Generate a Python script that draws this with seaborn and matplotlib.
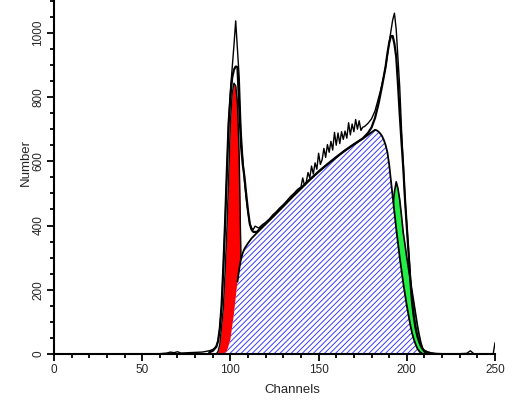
import matplotlib
matplotlib.use("Agg")
import matplotlib.pyplot as plt
from matplotlib.ticker import MultipleLocator
import seaborn as sns
import pandas as pd

# ---- data (channel, count) ----
data_ch = [0, 20, 40, 60, 64, 66, 68, 70, 72, 76,
           80, 84, 86, 88, 90, 91, 92, 93, 94, 95,
           96, 97, 98, 99, 100, 101, 102, 103, 104, 105,
           106, 107, 108, 109, 110, 111, 112, 113, 114, 116,
           118, 120, 122, 124, 126, 128, 130, 132, 134, 136,
           138, 140, 141, 142, 143, 144, 145, 146, 147, 148,
           149, 150, 151, 152, 153, 154, 155, 156, 157, 158,
           159, 160, 161, 162, 163, 164, 165, 166, 167, 168,
           169, 170, 171, 172, 173, 174, 175, 176, 178, 180,
           182, 184, 185, 186, 187, 188, 189, 190, 191, 192,
           193, 194, 195, 196, 197, 198, 199, 200, 201, 202,
           203, 204, 205, 206, 207, 208, 209, 210, 212, 214,
           216, 220, 230, 234, 236, 238, 245, 249, 250]
data_n = [0, 0, 1, 1, 3, 6, 4, 7, 3, 4,
          5, 6, 8, 10, 14, 18, 25, 40, 80, 150,
          270, 410, 570, 720, 820, 890, 960, 1037, 950, 860,
          700, 610, 535, 482, 440, 405, 392, 388, 398, 392,
          402, 410, 420, 433, 443, 455, 465, 477, 490, 500,
          512, 520, 548, 525, 535, 565, 548, 585, 560, 595,
          575, 625, 590, 605, 640, 612, 652, 628, 662, 635,
          690, 650, 688, 655, 692, 668, 694, 672, 720, 682,
          716, 692, 730, 700, 726, 696, 706, 708, 718, 732,
          757, 797, 818, 842, 866, 895, 930, 970, 1005, 1040,
          1061, 1010, 920, 830, 700, 590, 480, 400, 320, 235,
          165, 118, 82, 56, 38, 25, 16, 10, 6, 3,
          2, 1, 1, 2, 10, 1, 1, 1, 35]

model_ch = [88, 90, 92, 93, 94, 95, 96, 97, 98, 99,
            100, 101, 102, 103, 104, 105, 106, 107, 108, 109,
            110, 111, 112, 113, 115, 120, 125, 130, 135, 140,
            145, 150, 155, 160, 165, 170, 175, 178, 180, 182,
            184, 186, 188, 189, 190, 191, 192, 193, 194, 195,
            196, 197, 198, 199, 200, 201, 202, 203, 204, 205,
            206, 207, 208, 209, 210, 212, 214, 216]
model_n = [5, 10, 22, 40, 80, 150, 270, 410, 570, 720,
           800, 860, 885, 895, 893, 770, 650, 590, 550, 495,
           445, 405, 387, 380, 380, 406, 433, 461, 489, 516,
           543, 568, 591, 613, 634, 653, 671, 688, 705, 735,
           780, 835, 895, 935, 968, 990, 990, 965, 925, 840,
           745, 660, 580, 480, 395, 315, 230, 160, 115, 80,
           55, 38, 25, 15, 10, 5, 2, 0]

g1_ch = [92, 93, 94, 95, 96, 97, 98, 99, 100, 101,
         102, 103, 104, 105, 106, 107, 108, 109, 110]
g1_n = [0, 8, 30, 85, 143, 255, 385, 545, 720, 810,
        843, 835, 780, 610, 290, 140, 60, 20, 0]

s_ch = [96, 98, 100, 101, 102, 103, 104, 105, 106, 107,
        108, 110, 112, 115, 120, 125, 130, 135, 140, 145,
        150, 155, 160, 165, 170, 175, 178, 180, 182, 183,
        184, 185, 186, 187, 188, 189, 190, 191, 192, 193,
        194, 195, 196, 197, 198, 199, 200, 201, 202, 203,
        204, 205, 206, 207, 208, 209]
s_n = [0, 8, 45, 85, 125, 175, 225, 265, 295, 315,
       328, 345, 360, 377, 405, 432, 460, 488, 515, 542,
       567, 590, 612, 633, 652, 670, 682, 690, 698, 696,
       692, 686, 678, 666, 650, 628, 590, 540, 490, 440,
       390, 345, 300, 260, 220, 185, 150, 120, 90, 65,
       45, 30, 17, 9, 4, 0]

g2_ch = [190, 191, 192, 193, 194, 195, 196, 197, 198, 199,
         200, 201, 202, 203, 204, 205, 206, 207, 208, 209,
         210, 211]
g2_n = [300, 380, 450, 505, 536, 515, 480, 430, 377, 340,
        300, 265, 230, 195, 160, 125, 90, 60, 35, 17,
        6, 0]

x_ticks = [0, 50, 100, 150, 200, 250]
y_ticks = [0, 200, 400, 600, 800, 1000]

# ---- style ----
sns.set_style("ticks")
plt.rcParams["font.family"] = ["Liberation Sans", "DejaVu Sans"]
plt.rcParams["hatch.color"] = "#3a3aff"
plt.rcParams["hatch.linewidth"] = 0.7

fig = plt.figure(figsize=(5.19, 4.04), dpi=100)
ax = fig.add_axes([54 / 519, 50 / 404, 441 / 519, 354 / 404])

df_data = pd.DataFrame({"ch": data_ch, "n": data_n})
df_model = pd.DataFrame({"ch": model_ch, "n": model_n})
df_g1 = pd.DataFrame({"ch": g1_ch, "n": g1_n})
df_g2 = pd.DataFrame({"ch": g2_ch, "n": g2_n})
df_s = pd.DataFrame({"ch": s_ch, "n": s_n})

# G1 (red) and G2 (green) components
ax.fill_between(df_g1["ch"], 0, df_g1["n"], color="#ff0000", lw=0, zorder=1)
sns.lineplot(data=df_g1, x="ch", y="n", ax=ax, color="black", lw=1.0,
             estimator=None, sort=False, zorder=1.5)
ax.fill_between(df_g2["ch"], 0, df_g2["n"], color="#22ee44", lw=0, zorder=1)
sns.lineplot(data=df_g2, x="ch", y="n", ax=ax, color="black", lw=1.2,
             estimator=None, sort=False, zorder=1.5)

# S-phase (hatched, white background, covers components)
ax.fill_between(df_s["ch"], 0, df_s["n"], facecolor="white",
                edgecolor="#3a3aff", hatch="//////", lw=0, zorder=2)
s_edge = df_s[df_s["ch"] >= 104]
sns.lineplot(data=s_edge, x="ch", y="n", ax=ax, color="black", lw=1.3,
             estimator=None, sort=False, zorder=2.5)

# model and data outlines
sns.lineplot(data=df_model, x="ch", y="n", ax=ax, color="black", lw=1.6,
             estimator=None, sort=False, zorder=3)
sns.lineplot(data=df_data, x="ch", y="n", ax=ax, color="black", lw=1.0,
             estimator=None, sort=False, zorder=3)

ax.set_xlim(0, 250)
ax.set_ylim(0, 1102)
ax.set_xticks(x_ticks)
ax.set_xticklabels([str(t) for t in x_ticks])
ax.set_yticks(y_ticks)
ax.set_yticklabels([str(t) for t in y_ticks])
ax.xaxis.set_minor_locator(MultipleLocator(10))
ax.yaxis.set_minor_locator(MultipleLocator(50))

for sp in ["top", "right"]:
    ax.spines[sp].set_visible(False)
for sp in ["left", "bottom"]:
    ax.spines[sp].set_linewidth(1.5)
    ax.spines[sp].set_color("black")

ax.tick_params(axis="both", which="major", length=5, width=1.3,
               color="black", labelsize=8.5, pad=2)
ax.tick_params(axis="both", which="minor", length=3, width=1.3, color="black")
ax.tick_params(axis="y", labelrotation=90)
for lab in ax.get_yticklabels():
    lab.set_va("center")

ax.set_xlabel("Channels", fontsize=9.5)
ax.set_ylabel("Number", fontsize=9.5)
ax.xaxis.set_label_coords(0.54, -0.085)
ax.yaxis.set_label_coords(-0.05, 0.54)

fig.savefig("out.png", dpi=100)
